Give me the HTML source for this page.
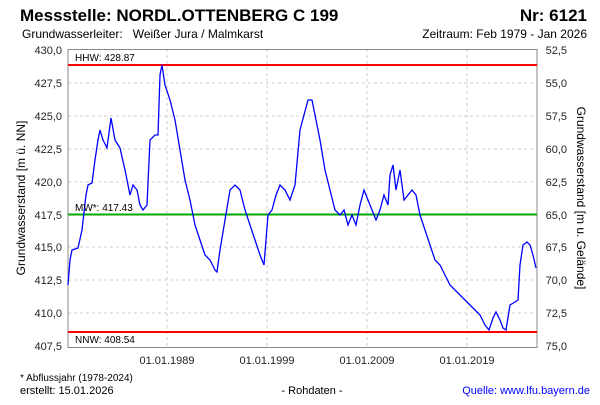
<!DOCTYPE html>
<html><head><meta charset="utf-8"><style>
body{margin:0;background:#fff;width:600px;height:400px;overflow:hidden;font-family:"Liberation Sans",sans-serif}
</style></head><body>
<svg width="600" height="400" xmlns="http://www.w3.org/2000/svg" font-family="Liberation Sans, sans-serif">
<text x="20" y="21" font-size="17" font-weight="bold">Messstelle: NORDL.OTTENBERG C 199</text>
<text x="587" y="21" font-size="17" font-weight="bold" text-anchor="end">Nr: 6121</text>
<text x="22" y="38" font-size="12" xml:space="preserve">Grundwasserleiter:   Weißer Jura / Malmkarst</text>
<text x="587" y="38" font-size="12" text-anchor="end">Zeitraum: Feb 1979 - Jan 2026</text>
<g stroke="#ccc" stroke-dasharray="3,3" stroke-width="1">
<line x1="167" y1="49" x2="167" y2="348"/><line x1="267" y1="49" x2="267" y2="348"/><line x1="367" y1="49" x2="367" y2="348"/><line x1="467" y1="49" x2="467" y2="348"/>
<line x1="68" y1="83" x2="537" y2="83"/><line x1="68" y1="116" x2="537" y2="116"/><line x1="68" y1="149" x2="537" y2="149"/><line x1="68" y1="182" x2="537" y2="182"/><line x1="68" y1="215" x2="537" y2="215"/><line x1="68" y1="247" x2="537" y2="247"/><line x1="68" y1="280" x2="537" y2="280"/><line x1="68" y1="313" x2="537" y2="313"/>
</g>
<rect x="68" y="49.5" width="469" height="298" fill="none" stroke="#888"/>
<g font-size="11" fill="#222" text-anchor="end">
<text x="62" y="54">430,0</text><text x="62" y="87">427,5</text><text x="62" y="120">425,0</text><text x="62" y="153">422,5</text><text x="62" y="186">420,0</text><text x="62" y="219">417,5</text><text x="62" y="251">415,0</text><text x="62" y="284">412,5</text><text x="62" y="317">410,0</text><text x="62" y="350">407,5</text>
</g>
<g font-size="11" fill="#222" text-anchor="end">
<text x="567" y="54">52,5</text><text x="567" y="87">55,0</text><text x="567" y="120">57,5</text><text x="567" y="153">60,0</text><text x="567" y="186">62,5</text><text x="567" y="219">65,0</text><text x="567" y="251">67,5</text><text x="567" y="284">70,0</text><text x="567" y="317">72,5</text><text x="567" y="350">75,0</text>
</g>
<g font-size="11" fill="#222" text-anchor="middle">
<text x="167" y="364">01.01.1989</text><text x="267" y="364">01.01.1999</text><text x="367" y="364">01.01.2009</text><text x="467" y="364">01.01.2019</text>
</g>
<text transform="translate(25,198) rotate(-90)" font-size="12" text-anchor="middle">Grundwasserstand [m ü. NN]</text>
<text transform="translate(577,198) rotate(90)" font-size="12" text-anchor="middle">Grundwasserstand [m u. Gelände]</text>
<line x1="68" y1="65" x2="537" y2="65" stroke="#f00" stroke-width="2"/>
<line x1="68" y1="214.5" x2="537" y2="214.5" stroke="#0a0" stroke-width="2"/>
<line x1="68" y1="332" x2="537" y2="332" stroke="#f00" stroke-width="2"/>
<polyline fill="none" stroke="#00f" stroke-width="1.3" points="68,285 70,260 72,250 78,248 82,230 86,195 88,185 92,183 95,160 98,140 100,130 103,140 107,148 111,118 115,140 120,148 125,170 130,195 133,185 137,190 140,205 143,210 147,205 150,140 155,135 158,135 160,75 162,65 165,85 170,100 175,120 180,150 185,180 190,200 195,225 200,240 205,255 210,260 215,270 217,272 220,250 225,220 230,190 235,185 240,190 245,210 250,225 255,240 260,255 264,265 268,215 272,210 276,195 280,185 285,190 290,200 295,185 300,130 304,115 308,100 312,100 316,120 320,140 325,170 330,190 335,210 340,215 344,210 348,225 352,215 356,225 360,205 364,190 368,200 372,210 376,220 380,210 384,195 388,205 390,175 393,165 396,190 400,170 404,200 408,195 412,190 416,195 420,215 425,230 430,245 435,260 440,265 445,275 450,285 455,290 460,295 465,300 470,305 475,310 480,315 485,325 489,330 493,318 496,312 500,320 503,328 506,330 510,305 515,302 518,300 520,265 523,245 527,242 530,245 533,255 536,268"/>
<text x="75" y="61" font-size="10">HHW: 428.87</text>
<text x="75" y="211" font-size="10">MW*: 417.43</text>
<text x="75" y="343" font-size="10">NNW: 408.54</text>
<text x="20" y="381" font-size="10">* Abflussjahr (1978-2024)</text>
<text x="20" y="394" font-size="11">erstellt:  15.01.2026</text>
<text x="312" y="394" font-size="11" text-anchor="middle">- Rohdaten -</text>
<text x="590" y="394" font-size="11" fill="#00f" text-anchor="end">Quelle:  www.lfu.bayern.de</text>
</svg>
</body></html>
